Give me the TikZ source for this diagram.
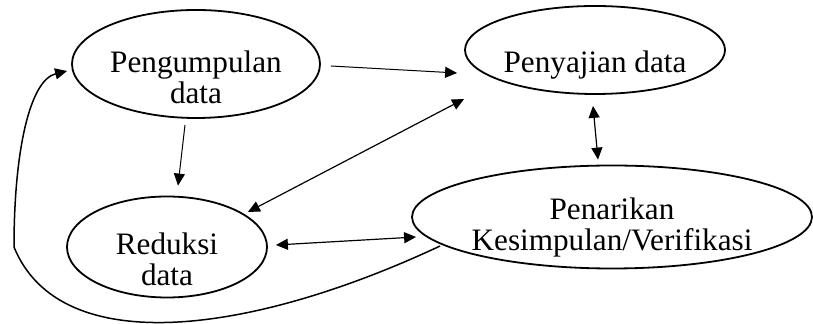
\documentclass[tikz,border=0pt]{standalone}
\usepackage{fontspec}
\setmainfont{Liberation Serif}
\usetikzlibrary{arrows.meta}
\usetikzlibrary{shapes.geometric}
% text lowered below the centre of its ellipse, first baseline #1 below it
\newcommand{\ovaltext}[2]{\raisebox{-#1}[0pt][0pt]{\begin{tabular}[t]{@{}c@{}}#2\end{tabular}}}

\begin{document}
\begin{tikzpicture}[x=0.5pt,y=-0.5pt]
		\tikzset{stage/.style = {shape=ellipse,draw,line width=0.9pt,inner sep=0pt,font=\fontsize{15.6}{14.6}\selectfont}}
		\tikzset{link/.style = {-{Triangle[length=6pt,width=5.5pt]},line width=0.5pt}}
		\tikzset{both/.style = {{Triangle[length=6pt,width=5.5pt]}-{Triangle[length=6pt,width=5.5pt]},line width=0.6pt}}
		\useasboundingbox (0,0) rectangle (813,324);
			\node[stage,minimum width=124pt,minimum height=54pt] (kumpul) at (196,64) {\ovaltext{4.35pt}{Pengumpulan\\data}};
			\node[stage,minimum width=130pt,minimum height=44pt] (saji) at (595,50) {\ovaltext{11.35pt}{Penyajian data}};
			\node[stage,minimum width=100pt,minimum height=50.5pt] (reduksi) at (167,247) {\ovaltext{4pt}{Reduksi\\data}};
			\node[stage,minimum width=200pt,minimum height=51.5pt] (tarik) at (612,217) {\ovaltext{1.5pt}{Penarikan\\Kesimpulan/Verifikasi}};
			\coordinate (sudut) at (14,247);
			\draw[link] ([shift={(10,2)}]kumpul.east) -- ([shift={(-7,23)}]saji.west);
			\draw[link] ([shift={(-11,6)}]kumpul.south) -- ([shift={(11,-10)}]reduksi.north);
			\draw[both] ([shift={(0,49)}]saji.west) -- ([shift={(-20,-35)}]reduksi.east);
			\draw[both] ([shift={(-2,11)}]saji.south) -- ([shift={(-14,-5)}]tarik.north);
			\draw[both] ([shift={(8,-2)}]reduksi.east) -- ([shift={(5,20)}]tarik.west);
			\draw[link,line width=0.75pt] ([shift={(29,29)}]tarik.west) .. controls (250,335) and (60,360) .. (sudut)
				.. controls (14,150) and (30,80) .. ([shift={(-4,7)}]kumpul.west);
\end{tikzpicture}
\end{document}
